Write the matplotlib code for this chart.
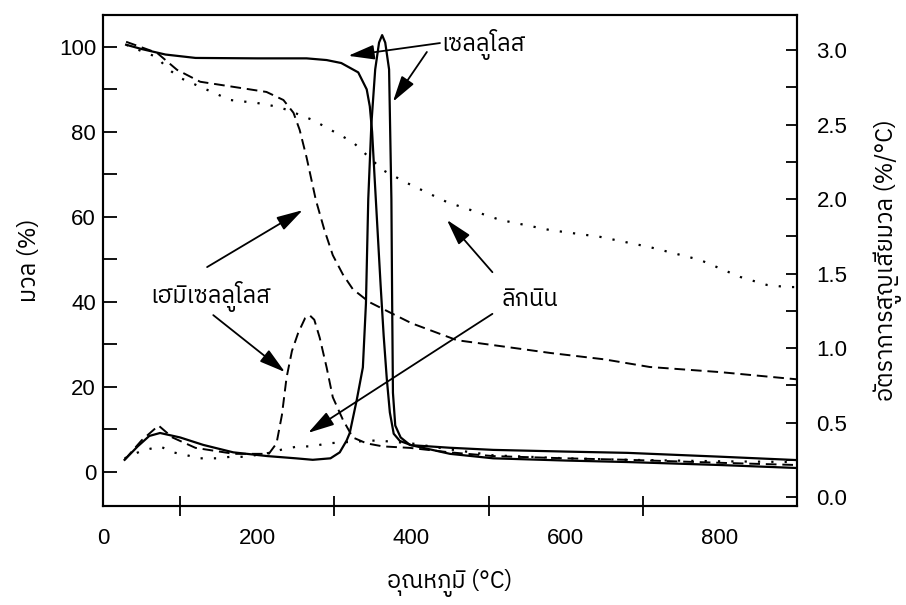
import matplotlib
matplotlib.use("Agg")
import matplotlib.pyplot as plt
from matplotlib import font_manager as fm
from matplotlib.ft2font import FT2Font
from matplotlib.ticker import MultipleLocator, FixedLocator, FormatStrFormatter

# ---------------- data ----------------
# TG curves (mass %, left axis)
tg_cel_T = [30, 50, 81, 120, 200, 264, 290, 309, 331, 342, 346, 349, 352, 356, 360, 364, 368, 372, 377, 385, 400, 450, 506, 600, 680, 800, 900]
tg_cel_v = [100.5, 99.5, 98.2, 97.4, 97.3, 97.3, 96.9, 96.2, 94.0, 90.0, 86.0, 80.0, 70.0, 57.0, 44.0, 32.0, 22.0, 14.0, 9.0, 7.3, 6.3, 5.7, 5.2, 4.8, 4.5, 3.6, 2.8]

tg_hem_T = [30, 70, 96, 126, 169, 212, 234, 247, 255, 264, 276, 287, 298, 311, 324, 345, 368, 400, 459, 520, 580, 650, 709, 800, 882, 900]
tg_hem_v = [101.2, 98.6, 94.6, 91.8, 90.6, 89.4, 87.5, 84.5, 80.5, 74.0, 64.0, 57.0, 51.0, 46.5, 43.0, 40.0, 37.9, 35.0, 31.0, 29.5, 28.0, 26.5, 24.7, 23.5, 22.1, 21.8]

tg_lig_T = [30, 50, 70, 83, 100, 135, 165, 200, 221, 239, 255, 272, 307, 324, 363, 394, 446, 515, 580, 645, 709, 774, 826, 861, 887, 900]
tg_lig_v = [100.5, 99.0, 97.6, 95.0, 92.7, 89.9, 87.5, 86.8, 86.1, 85.2, 84.0, 82.8, 79.3, 77.6, 71.0, 68.0, 63.5, 59.3, 56.9, 55.3, 52.9, 49.9, 45.9, 44.0, 43.5, 43.5]

# DTG curves (%/°C, right axis)
dtg_cel_T = [28, 45, 60, 74, 100, 130, 169, 213, 250, 272, 295, 307, 316, 320, 329, 337, 341, 344, 348, 353, 358, 362, 366, 371, 374, 375, 376, 379, 386, 398, 450, 506, 600, 680, 800, 900]
dtg_cel_r = [0.25, 0.34, 0.41, 0.43, 0.40, 0.35, 0.30, 0.275, 0.26, 0.25, 0.26, 0.30, 0.38, 0.43, 0.65, 0.87, 1.30, 2.00, 2.50, 2.87, 3.05, 3.10, 3.05, 2.87, 2.00, 1.30, 0.70, 0.48, 0.40, 0.35, 0.29, 0.26, 0.245, 0.235, 0.215, 0.195]

dtg_hem_T = [28, 50, 72, 90, 120, 170, 215, 225, 232, 238, 245, 253, 262, 268, 274, 281, 290, 298, 311, 324, 342, 363, 398, 450, 506, 600, 680, 800, 900]
dtg_hem_r = [0.25, 0.38, 0.48, 0.40, 0.33, 0.29, 0.29, 0.36, 0.55, 0.80, 0.98, 1.10, 1.20, 1.22, 1.19, 1.07, 0.87, 0.67, 0.52, 0.40, 0.36, 0.34, 0.33, 0.30, 0.275, 0.26, 0.25, 0.23, 0.215]

dtg_lig_T = [28, 50, 74, 91, 109, 126, 148, 165, 182, 210, 233, 253, 272, 290, 320, 355, 400, 450, 506, 600, 680, 800, 900]
dtg_lig_r = [0.26, 0.31, 0.34, 0.30, 0.28, 0.26, 0.26, 0.27, 0.27, 0.29, 0.32, 0.34, 0.34, 0.36, 0.37, 0.38, 0.36, 0.32, 0.28, 0.26, 0.25, 0.24, 0.235]

x_ticks = [0, 200, 400, 600, 800]
x_marks = [100, 300, 500, 700]
left_ticks = [0, 20, 40, 60, 80, 100]
right_ticks = [0.0, 0.5, 1.0, 1.5, 2.0, 2.5, 3.0]

label_cel = "เซลลูโลส"
label_hem = "เฮมิเซลลูโลส"
label_lig = "ลิกนิน"
xlabel = "อุณหภูมิ (°C)"
ylabel_left = "มวล (%)"
ylabel_right = "อัตราการสูญเสียมวล (%/°C)"

# ---------------- fonts ----------------
thai_font = None
cands = []
for f in fm.fontManager.ttflist:
    try:
        cm = FT2Font(f.fname).get_charmap()
    except Exception:
        continue
    if all(c in cm for c in (0x0E40, 0x0E25, 0x0E39, 0x0E34)):
        cands.append(f.name)
pref = [n for n in cands if "Sans" in n or "Loop" in n]
if cands:
    thai_font = (pref or cands)[0]
thai_family = ([thai_font] if thai_font else []) + ["DejaVu Sans"]

plt.rcParams["font.family"] = ["Liberation Sans", "DejaVu Sans"]

# ---------------- figure ----------------
fig = plt.figure(figsize=(9.06, 6.05), dpi=100)
ax = fig.add_axes([103 / 906, 99 / 605, 694 / 906, 491 / 605])
ax2 = ax.twinx()

lw = 1.6
dash = (0, (5.5, 3.0))
dot = (0, (1, 5))

ax.plot(tg_cel_T, tg_cel_v, color="black", lw=lw, ls="-")
ax.plot(tg_hem_T, tg_hem_v, color="black", lw=1.4, ls=dash)
ax.plot(tg_lig_T, tg_lig_v, color="black", lw=1.6, ls=dot)

ax2.plot(dtg_cel_T, dtg_cel_r, color="black", lw=lw, ls="-")
ax2.plot(dtg_hem_T, dtg_hem_r, color="black", lw=1.4, ls=dash)
ax2.plot(dtg_lig_T, dtg_lig_r, color="black", lw=1.6, ls=dot)

ax.set_xlim(0, 900)
ax.set_ylim(-8, 107.5)
ax2.set_ylim(-0.06, 3.235)

# x axis: labels at 0..800 without marks, marks at 100, 300, ...
ax.set_xticks(x_ticks)
ax.set_xticklabels([str(t) for t in x_ticks])
ax.xaxis.set_minor_locator(FixedLocator(x_marks))
ax.tick_params(axis="x", which="major", length=0, pad=16, labelsize=16)
ax.tick_params(axis="x", which="minor", length=14, width=1.3, direction="inout")

ax.set_yticks(left_ticks)
ax.yaxis.set_minor_locator(MultipleLocator(10))
ax.tick_params(axis="y", which="both", direction="in", length=10, width=1.3, labelsize=16, pad=5)
ax.tick_params(axis="x", top=False)

ax2.set_yticks(right_ticks)
ax2.yaxis.set_major_formatter(FormatStrFormatter("%.1f"))
ax2.yaxis.set_minor_locator(MultipleLocator(0.25))
ax2.tick_params(axis="y", which="both", direction="in", length=8, width=1.3, labelsize=16, pad=14)

for a in (ax, ax2):
    for s in a.spines.values():
        s.set_linewidth(1.5)

ax.set_xlabel(xlabel, fontsize=17, family=thai_family, labelpad=14)
ax.set_ylabel(ylabel_left, fontsize=17, family=thai_family, labelpad=13)
ax2.set_ylabel(ylabel_right, fontsize=17, family=thai_family, labelpad=19, rotation=90)

# ---------------- annotations ----------------
aprops = dict(arrowstyle="-|>,head_length=1.6,head_width=0.45", color="black", lw=1.3,
              shrinkA=0, shrinkB=0)

ax.text(493, 100.5, label_cel, ha="center", va="center", fontsize=17, family=thai_family)
ax.annotate("", xy=(318, 97.9), xytext=(437, 100.9), arrowprops=aprops)
ax.annotate("", xy=(376, 87.1), xytext=(420, 98.8), arrowprops=aprops)

ax.text(139, 41.2, label_hem, ha="center", va="center", fontsize=17, family=thai_family)
ax.annotate("", xy=(259, 61.6), xytext=(135, 48.2), arrowprops=aprops)
ax.annotate("", xy=(236, 23.5), xytext=(143, 36.9), arrowprops=aprops)

ax.text(554, 40.5, label_lig, ha="center", va="center", fontsize=17, family=thai_family)
ax.annotate("", xy=(446, 59.3), xytext=(505, 47.0), arrowprops=aprops)
ax.annotate("", xy=(266, 9.2), xytext=(505, 37.2), arrowprops=aprops)

fig.savefig("out.png", dpi=100)
